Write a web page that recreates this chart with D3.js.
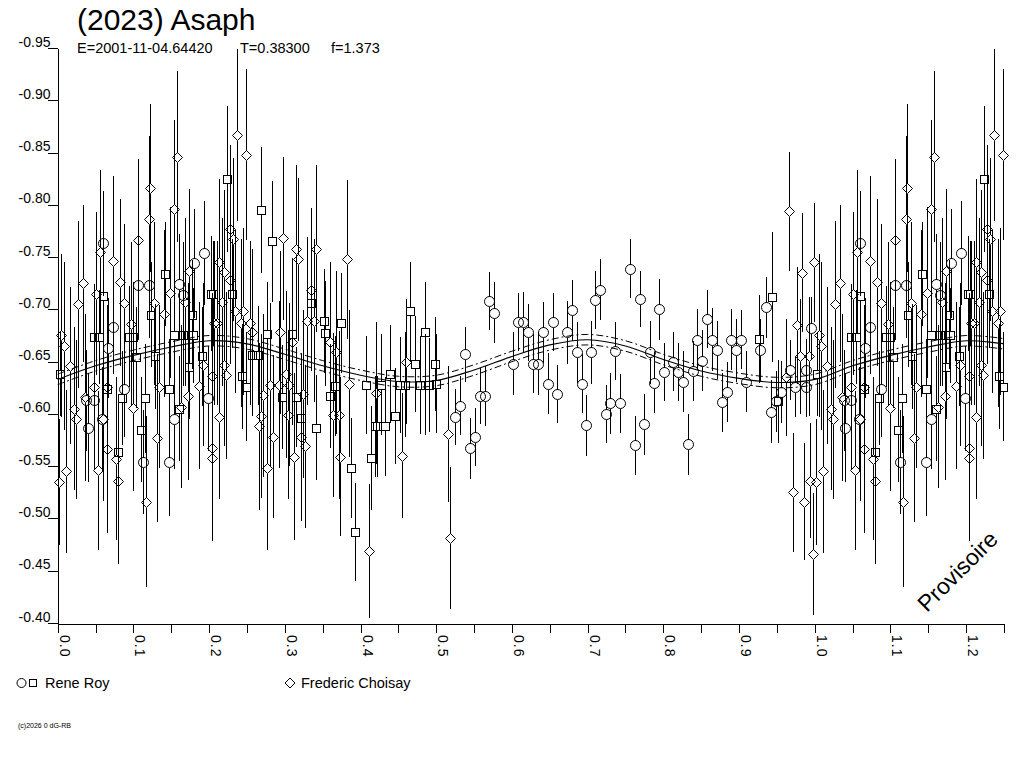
<!DOCTYPE html>
<html><head><meta charset="utf-8">
<script src="https://cdn.jsdelivr.net/npm/d3@7"></script>
<style>
html,body{margin:0;padding:0;background:#fff;}
svg{display:block;}
text{font-family:"Liberation Sans",Arial,sans-serif;fill:#000;}
</style>
</head><body>
<svg id="c" width="1024" height="768"></svg>
<script>
// ---- Data ----
const titleText = "(2023) Asaph";
const infoE = "E=2001-11-04.64420";
const infoT = "T=0.38300";
const infoF = "f=1.373";
const yTickValues = [-0.95,-0.90,-0.85,-0.80,-0.75,-0.70,-0.65,-0.60,-0.55,-0.50,-0.45,-0.40];
const xTickValues = [0,0.05,0.1,0.15,0.2,0.25,0.3,0.35,0.4,0.45,0.5,0.55,0.6,0.65,0.7,0.75,0.8,0.85,0.9,0.95,1.0,1.05,1.1,1.15,1.2,1.25];
const xLabelValues = [0,0.1,0.2,0.3,0.4,0.5,0.6,0.7,0.8,0.9,1.0,1.1,1.2];
const legendNames = ["Rene Roy","Frederic Choisay"];

const fitPhase = [0,0.05,0.1,0.15,0.2,0.25,0.3,0.35,0.4,0.45,0.5,0.55,0.6,0.65,0.7,0.75,0.8,0.85,0.9,0.95,1.0,1.05,1.1,1.15,1.2,1.25];
const fitMid   = [-0.633,-0.646,-0.656,-0.664,-0.670,-0.667,-0.657,-0.646,-0.637,-0.631,-0.632,-0.642,-0.655,-0.666,-0.671,-0.665,-0.652,-0.641,-0.634,-0.630,-0.633,-0.646,-0.656,-0.664,-0.670,-0.667];
const fitUpper = [-0.638,-0.651,-0.661,-0.669,-0.675,-0.672,-0.662,-0.651,-0.642,-0.636,-0.637,-0.647,-0.660,-0.671,-0.676,-0.670,-0.657,-0.646,-0.639,-0.635,-0.638,-0.651,-0.661,-0.669,-0.675,-0.672];
const fitLower = [-0.628,-0.641,-0.651,-0.659,-0.665,-0.662,-0.652,-0.641,-0.632,-0.626,-0.627,-0.637,-0.650,-0.661,-0.666,-0.660,-0.647,-0.636,-0.629,-0.625,-0.628,-0.641,-0.651,-0.659,-0.665,-0.662];

// [phase, magnitude, error]
const rrCircles = [
[0.538,-0.657,0.026],[0.532,-0.608,0.028],[0.525,-0.597,0.027],[0.551,-0.578,0.028],[0.544,-0.567,0.029],
[0.558,-0.617,0.027],[0.564,-0.617,0.029],[0.570,-0.708,0.028],[0.576,-0.697,0.029],[0.602,-0.648,0.030],
[0.608,-0.688,0.028],[0.615,-0.688,0.029],[0.621,-0.678,0.027],[0.628,-0.648,0.028],[0.635,-0.648,0.030],
[0.641,-0.678,0.029],[0.654,-0.688,0.028],[0.647,-0.629,0.029],[0.660,-0.619,0.028],[0.679,-0.699,0.029],
[0.673,-0.678,0.030],[0.686,-0.659,0.029],[0.692,-0.629,0.028],[0.698,-0.589,0.029],[0.705,-0.659,0.030],
[0.710,-0.709,0.028],[0.717,-0.719,0.029],[0.756,-0.739,0.028],[0.769,-0.710,0.027],[0.794,-0.700,0.029],
[0.736,-0.660,0.028],[0.782,-0.659,0.030],[0.730,-0.610,0.029],[0.743,-0.610,0.028],[0.724,-0.600,0.028],
[0.788,-0.630,0.029],[0.801,-0.640,0.028],[0.775,-0.590,0.029],[0.762,-0.570,0.028],[0.832,-0.571,0.029],
[0.858,-0.691,0.028],[0.845,-0.671,0.029],[0.864,-0.671,0.030],[0.871,-0.661,0.028],[0.851,-0.651,0.029],
[0.839,-0.641,0.029],[0.820,-0.640,0.028],[0.826,-0.631,0.029],[0.813,-0.650,0.028],[0.890,-0.671,0.029],
[0.903,-0.671,0.028],[0.896,-0.661,0.030],[0.884,-0.621,0.029],[0.877,-0.611,0.028],[0.909,-0.631,0.029],
[0.935,-0.702,0.029],[0.928,-0.661,0.030],[0.967,-0.642,0.029],[0.955,-0.621,0.030],[0.949,-0.612,0.029],
[0.942,-0.602,0.030],[0.974,-0.626,0.029],[0.989,-0.642,0.030],[0.989,-0.626,0.029],[0.995,-0.682,0.030],
[0.060,-0.763,0.050],[0.073,-0.683,0.045],[0.067,-0.663,0.048],[0.106,-0.723,0.052],[0.120,-0.723,0.050],
[0.160,-0.724,0.048],[0.166,-0.714,0.050],[0.180,-0.744,0.052],[0.193,-0.754,0.050],[0.087,-0.624,0.046],
[0.048,-0.613,0.050],[0.038,-0.613,0.048],[0.040,-0.587,0.052],[0.059,-0.595,0.050],[0.113,-0.554,0.050],
[0.147,-0.554,0.052],[0.154,-0.595,0.048],[0.199,-0.615,0.050]
];
const rrSquares = [
[0.142,-0.734,0.050],[0.060,-0.713,0.055],[0.048,-0.674,0.050],[0.055,-0.674,0.045],[0.094,-0.674,0.048],
[0.100,-0.674,0.052],[0.154,-0.675,0.050],[0.166,-0.675,0.048],[0.172,-0.675,0.050],[0.179,-0.675,0.045],
[0.178,-0.695,0.052],[0.123,-0.695,0.050],[0.203,-0.715,0.055],[0.104,-0.654,0.048],[0.128,-0.655,0.050],
[0.191,-0.655,0.047],[0.173,-0.645,0.050],[0.065,-0.624,0.050],[0.085,-0.615,0.045],[0.115,-0.615,0.052],
[0.147,-0.624,0.048],[0.160,-0.605,0.050],[0.110,-0.585,0.050],[0.080,-0.564,0.050],[0.003,-0.638,0.040],
[0.269,-0.795,0.060],[0.283,-0.765,0.058],[0.224,-0.825,0.070],[0.205,-0.715,0.050],[0.230,-0.715,0.052],
[0.334,-0.706,0.050],[0.374,-0.687,0.048],[0.352,-0.689,0.050],[0.276,-0.676,0.050],[0.309,-0.676,0.048],
[0.257,-0.656,0.050],[0.264,-0.656,0.047],[0.243,-0.636,0.050],[0.249,-0.626,0.052],[0.296,-0.616,0.050],
[0.315,-0.616,0.048],[0.321,-0.596,0.050],[0.341,-0.587,0.050],[0.353,-0.677,0.050],[0.366,-0.627,0.048],
[0.360,-0.617,0.050],[0.407,-0.628,0.047],[0.419,-0.588,0.048],[0.414,-0.558,0.050],[0.387,-0.548,0.048],
[0.393,-0.487,0.047],[0.465,-0.698,0.047],[0.485,-0.678,0.048],[0.472,-0.648,0.046],[0.498,-0.648,0.045],
[0.439,-0.638,0.047],[0.427,-0.628,0.048],[0.452,-0.628,0.046],[0.459,-0.628,0.050],[0.478,-0.628,0.047],
[0.485,-0.628,0.048],[0.491,-0.628,0.045],[0.500,-0.629,0.047],[0.446,-0.598,0.046],[0.422,-0.588,0.048],
[0.433,-0.588,0.047],[0.944,-0.712,0.062],[0.926,-0.672,0.042],[0.952,-0.612,0.040]
];
const fcDiamonds = [
[0.122,-0.816,0.080],[0.154,-0.796,0.085],[0.120,-0.786,0.080],[0.106,-0.766,0.078],[0.073,-0.746,0.082],
[0.034,-0.725,0.075],[0.082,-0.726,0.080],[0.050,-0.715,0.078],[0.027,-0.705,0.080],[0.088,-0.706,0.076],
[0.148,-0.716,0.082],[0.168,-0.707,0.080],[0.127,-0.706,0.078],[0.140,-0.696,0.080],[0.174,-0.737,0.078],
[0.005,-0.675,0.078],[0.008,-0.665,0.080],[0.097,-0.686,0.078],[0.016,-0.646,0.075],[0.036,-0.616,0.080],
[0.022,-0.605,0.078],[0.024,-0.595,0.076],[0.048,-0.626,0.080],[0.065,-0.626,0.078],[0.100,-0.606,0.080],
[0.060,-0.595,0.078],[0.065,-0.566,0.080],[0.053,-0.546,0.076],[0.011,-0.545,0.078],[0.002,-0.535,0.060],
[0.079,-0.536,0.080],[0.077,-0.557,0.078],[0.131,-0.577,0.080],[0.117,-0.516,0.082],[0.134,-0.626,0.078],
[0.172,-0.617,0.080],[0.163,-0.607,0.078],[0.186,-0.627,0.080],[0.192,-0.647,0.078],[0.204,-0.636,0.080],
[0.204,-0.567,0.078],[0.204,-0.558,0.080],[0.207,-0.687,0.078],[0.157,-0.846,0.082],[0.056,-0.755,0.078],
[0.298,-0.768,0.078],[0.315,-0.758,0.080],[0.318,-0.748,0.078],[0.341,-0.758,0.080],[0.382,-0.748,0.076],
[0.228,-0.777,0.080],[0.232,-0.767,0.078],[0.213,-0.745,0.080],[0.220,-0.736,0.078],[0.227,-0.728,0.080],
[0.335,-0.719,0.078],[0.217,-0.707,0.080],[0.234,-0.698,0.078],[0.245,-0.698,0.080],[0.211,-0.687,0.078],
[0.242,-0.687,0.080],[0.254,-0.687,0.078],[0.257,-0.678,0.080],[0.294,-0.678,0.078],[0.329,-0.689,0.080],
[0.339,-0.689,0.078],[0.360,-0.669,0.076],[0.367,-0.659,0.078],[0.309,-0.669,0.080],[0.220,-0.647,0.078],
[0.222,-0.637,0.080],[0.280,-0.628,0.078],[0.292,-0.628,0.080],[0.271,-0.618,0.078],[0.301,-0.638,0.080],
[0.306,-0.628,0.078],[0.324,-0.619,0.080],[0.268,-0.598,0.078],[0.304,-0.599,0.080],[0.364,-0.599,0.078],
[0.371,-0.599,0.080],[0.213,-0.597,0.078],[0.266,-0.588,0.080],[0.284,-0.578,0.078],[0.321,-0.578,0.080],
[0.327,-0.569,0.078],[0.312,-0.559,0.080],[0.277,-0.548,0.078],[0.373,-0.559,0.076],[0.385,-0.629,0.070],
[0.421,-0.620,0.068],[0.237,-0.867,0.082],[0.249,-0.848,0.082],[0.411,-0.469,0.064],[0.460,-0.650,0.060],
[0.455,-0.560,0.060],[0.515,-0.581,0.065],[0.518,-0.481,0.068],[0.966,-0.794,0.057],[0.999,-0.745,0.057],
[0.983,-0.735,0.057],[0.977,-0.685,0.056],[0.981,-0.655,0.055],[0.992,-0.655,0.057],[0.962,-0.635,0.056],
[0.994,-0.536,0.055],[0.971,-0.525,0.057],[0.986,-0.516,0.056],[0.998,-0.466,0.058]
];

// ---- Drawing ----
const svg = d3.select("#c");
svg.append("rect").attr("width",1024).attr("height",768).attr("fill","#fff");

const x = d3.scaleLinear().domain([0,1.25]).range([57.7,1004]);
const y = d3.scaleLinear().domain([-0.40,-0.95]).range([623,48]);

// phase diagram repeats phases 0..0.25 after 1.0
const withRepeat = arr => arr.concat(arr.filter(d => d[0] <= 0.25).map(d => [d[0]+1, d[1], d[2]]));

svg.append("defs").append("clipPath").attr("id","plotclip")
  .append("rect").attr("x",50).attr("y",40).attr("width",962).attr("height",583);

const plot = svg.append("g").attr("clip-path","url(#plotclip)");

const all = [
  {data: withRepeat(rrCircles), type:"o", half:5},
  {data: withRepeat(rrSquares), type:"s", half:4},
  {data: withRepeat(fcDiamonds), type:"d", half:5}
];

const px = v => Math.round(x(v)) + 0.5;
const py = v => Math.round(y(v)) + 0.5;

// error bars (split around each marker)
const bars = plot.append("g").attr("stroke","#000").attr("stroke-width",1).attr("shape-rendering","crispEdges");
all.forEach(s => {
  const e = bars.selectAll(null).data(s.data).enter();
  e.append("line")
    .attr("x1", d => px(d[0])).attr("x2", d => px(d[0]))
    .attr("y1", d => y(d[1]-d[2])).attr("y2", d => py(d[1]) - s.half);
  e.append("line")
    .attr("x1", d => px(d[0])).attr("x2", d => px(d[0]))
    .attr("y1", d => py(d[1]) + s.half).attr("y2", d => y(d[1]+d[2]));
});

// markers (hollow)
const marks = plot.append("g").attr("stroke","#000").attr("stroke-width",1).attr("fill","none");
const diamondPath = "M0,-5L5,0L0,5L-5,0Z";
all.forEach(s => {
  const sel = marks.selectAll(null).data(s.data).enter();
  if (s.type === "o") {
    sel.append("circle").attr("cx", d => px(d[0])).attr("cy", d => py(d[1])).attr("r",5);
  } else if (s.type === "s") {
    sel.append("rect").attr("x", d => px(d[0])-4).attr("y", d => py(d[1])-4)
      .attr("width",8).attr("height",8).attr("shape-rendering","crispEdges");
  } else {
    sel.append("path").attr("transform", d => `translate(${px(d[0])},${py(d[1])})`).attr("d", diamondPath);
  }
});

// fit curves
const fitLine = vals => d3.line().x((d,i) => x(fitPhase[i])).y(d => y(d)).curve(d3.curveCatmullRom)(vals);
plot.append("path").attr("d", fitLine(fitMid)).attr("fill","none").attr("stroke","#000").attr("stroke-width",1.1);
plot.append("path").attr("d", fitLine(fitUpper)).attr("fill","none").attr("stroke","#000").attr("stroke-width",1)
  .attr("stroke-dasharray","7,3,2,3");
plot.append("path").attr("d", fitLine(fitLower)).attr("fill","none").attr("stroke","#000").attr("stroke-width",1)
  .attr("stroke-dasharray","7,3,2,3");

// axes
const fontFam = '"Liberation Sans",Arial,sans-serif';
const gY = svg.append("g").attr("transform","translate(57.5,0)")
  .call(d3.axisLeft(y).tickValues(yTickValues).tickSize(10).tickSizeOuter(0).tickFormat(d => d.toFixed(2)));
gY.attr("font-family", fontFam).attr("font-size", 14);
gY.selectAll("line").attr("shape-rendering","crispEdges");
gY.select(".domain").attr("shape-rendering","crispEdges");
gY.selectAll("text").attr("x",-7).attr("dy",-2);

const gX = svg.append("g").attr("transform","translate(0,623.5)")
  .call(d3.axisBottom(x).tickValues(xTickValues).tickSize(9).tickSizeOuter(0).tickFormat(""));
gX.selectAll("line").attr("shape-rendering","crispEdges");
gX.select(".domain").attr("shape-rendering","crispEdges");
svg.append("line").attr("x1",48).attr("x2",58).attr("y1",623.5).attr("y2",623.5).attr("stroke","#000").attr("shape-rendering","crispEdges");

svg.append("g").selectAll("text").data(xLabelValues).enter().append("text")
  .attr("transform", d => `translate(${Math.round(x(d))+1.5},635) rotate(90)`)
  .attr("font-size",14).attr("letter-spacing",1)
  .text(d => d.toFixed(1));

// titles
svg.append("text").attr("x",77).attr("y",30).attr("font-size",30).text(titleText);
svg.append("text").attr("x",77).attr("y",53).attr("font-size",14.5).text(infoE);
svg.append("text").attr("x",240).attr("y",53).attr("font-size",14.5).text(infoT);
svg.append("text").attr("x",331).attr("y",53).attr("font-size",14.5).text(infoF);

// watermark
svg.append("text").attr("transform","translate(927,613) rotate(-45)").attr("font-size",23).text("Provisoire");

// legend
const leg = svg.append("g").attr("stroke","#000").attr("fill","none");
leg.append("circle").attr("cx",21.5).attr("cy",683).attr("r",4.5);
leg.append("rect").attr("x",29.5).attr("y",679.5).attr("width",7).attr("height",7);
leg.append("path").attr("transform","translate(290,683)").attr("d","M0,-5L5,0L0,5L-5,0Z");
svg.append("text").attr("x",45).attr("y",688).attr("font-size",14.5).text(legendNames[0]);
svg.append("text").attr("x",301).attr("y",688).attr("font-size",14.5).text(legendNames[1]);

// copyright
svg.append("text").attr("x",18).attr("y",728).attr("font-size",7).text("(c)2026 0 dG-RB");
</script>
</body></html>
